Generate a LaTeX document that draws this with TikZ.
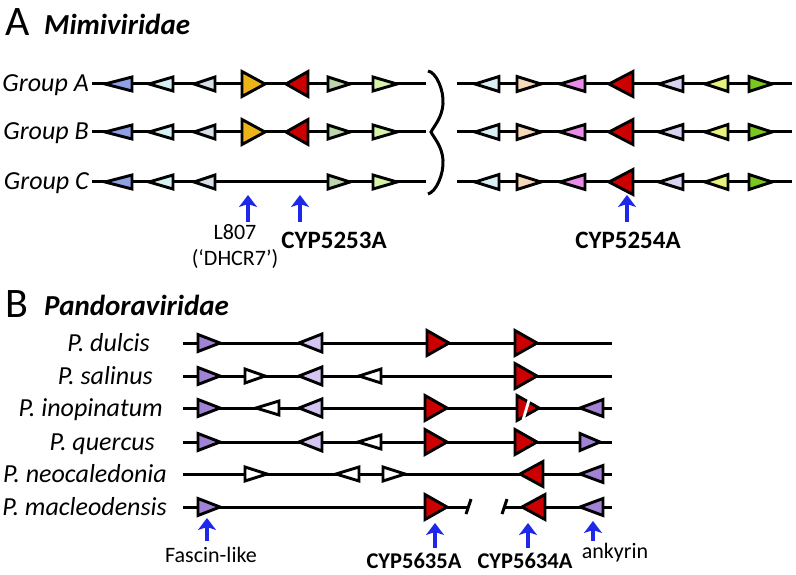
\documentclass[tikz,border=0pt]{standalone}
\usepackage{fontspec}
\setmainfont{Carlito}
\usetikzlibrary{arrows.meta}
\definecolor{gblue}{RGB}{143,160,228}
\definecolor{gcyan}{RGB}{214,240,246}
\definecolor{ggrey}{RGB}{214,222,232}
\definecolor{gyellow}{RGB}{236,180,24}
\definecolor{gred}{RGB}{204,0,0}
\definecolor{gsage}{RGB}{186,214,170}
\definecolor{glime}{RGB}{214,244,168}
\definecolor{gpeach}{RGB}{246,216,186}
\definecolor{gpink}{RGB}{232,140,232}
\definecolor{glilac}{RGB}{216,210,242}
\definecolor{gchart}{RGB}{232,242,122}
\definecolor{ggreen}{RGB}{122,200,30}
\definecolor{gpurple}{RGB}{162,130,212}
\definecolor{gmauve}{RGB}{212,196,242}
\definecolor{hitblue}{RGB}{30,40,232}
\tikzset{
  chrom/.style={line width=3pt},
  gene/.style={draw,line width=2.9pt,line join=miter},
  hit/.style={draw=hitblue,line width=3.8pt,-{Stealth[length=12pt,width=18pt,inset=3pt]}},
  rowlab/.style={anchor=base east,inner sep=0pt,font=\fontsize{26}{30}\selectfont\itshape},
  genelab/.style={anchor=base,inner sep=0pt,align=center,font=\fontsize{22}{26}\selectfont},
  cyplab/.style={anchor=base,inner sep=0pt,font=\fontsize{25}{28}\selectfont\bfseries},
  panel/.style={anchor=base west,inner sep=0pt,font=\fontsize{42}{44}\selectfont},
  family/.style={anchor=base west,inner sep=0pt,font=\fontsize{29}{32}\selectfont\bfseries\itshape},
}
% base x, tip x, row y, half height, fill
\newcommand{\gene}[5]{\filldraw[gene,fill=#5] (#1,#3-#4)--(#1,#3+#4)--(#2,#3)--cycle;}
\begin{document}
\begin{tikzpicture}[x=1pt,y=-1pt]
\useasboundingbox (0,0) rectangle (796,575);
% A Mimiviridae
\node[panel] (pA) at (5,36) {A};
\node[family] (fA) at (44,35) {Mimiviridae};
\foreach \n/\t/\y in {ga/A/84,gb/B/132,gc/C/182}{
  \node[rowlab] (\n) at (89,\y+8) {Group \t};
  \draw[chrom] (92,\y) -- (426,\y) (457,\y) -- (792,\y);
  \foreach \b/\e/\h/\c in {132/105/7/gblue,173/149/7/gcyan,215/194/7/ggrey,
      328/350/7/gsage,373/397/7/glime,
      499/475/7.5/gcyan,517/541/7.5/gpeach,585/560/7.5/gpink,633/609/12.5/gred,
      683/659/7.5/glilac,728/705/7.5/gchart,749/772/7.5/ggreen}
    {\gene{\b}{\e}{\y}{\h}{\c}}
}
\foreach \y in {84,132}{\gene{242}{265}{\y}{12.5}{gyellow}\gene{308}{286}{\y}{12.5}{gred}}
\draw[line width=3pt] (428,71) .. controls (436,72) and (444,90) .. (443,104)
  .. controls (442,118) and (434,126) .. (431,132)
  .. controls (434,138) and (442,146) .. (443,160)
  .. controls (444,174) and (436,192) .. (428,194);
\foreach \n/\x in {dh/248,c53/300,c54/627}{
  \coordinate (\n-t) at (\x,222); \coordinate (\n-h) at (\x,195);
  \draw[hit] (\n-t) -- (\n-h);}
\node[genelab,anchor=north] (dh) at (235,224) {L807\\(‘DHCR7’)};
\node[cyplab] (c53) at (334,248) {CYP5253A};
\node[cyplab] (c54) at (628,248) {CYP5254A};
% B Pandoraviridae
\node[panel] (pB) at (5,317) {B};
\node[family] (fB) at (44,315) {Pandoraviridae};
\foreach \n/\t/\x/\y in {pd/dulcis/150/343,ps/salinus/153/376,pi/inopinatum/163/408,
    pq/quercus/155/442,pn/neocaledonia/167/474,pm/macleodensis/167/507}
  \node[rowlab] (\n) at (\x,\y+8) {P. \t};
\foreach \y in {343,376,408,442,474} \draw[chrom] (183,\y) -- (612,\y);
\draw[chrom] (183,507) -- (469,507) (505,507) -- (612,507);
\draw[chrom] (466,514) -- (471,499) (502,514) -- (507,499);
\foreach \b/\e/\y/\h/\c in {
    198/220/343/8.5/gpurple,322/299/343/9/gmauve,427/449/343/12.5/gred,515/537/343/12.5/gred,
    198/220/376/8.5/gpurple,245/265/376/7/white,322/299/376/9/gmauve,381/359/376/7/white,515/537/376/12.5/gred,
    198/220/408/8.5/gpurple,279/256/408/7/white,322/299/408/9/gmauve,425/447/408/12.5/gred,517/539/408/12.5/gred,603/580/408/8.5/gpurple,
    198/220/442/8.5/gpurple,322/299/442/9/gmauve,381/358/442/7/white,425/447/442/12.5/gred,515/537/442/12.5/gred,580/600/442/8.5/gpurple,
    245/267/474/7/white,359/336/474/7/white,383/405/474/7/white,543/520/474/12.5/gred,603/580/474/8.5/gpurple,
    198/220/507/8.5/gpurple,425/447/507/12.5/gred,545/522/507/12.5/gred,603/580/507/8.5/gpurple}
  \gene{\b}{\e}{\y}{\h}{\c};
\draw[white,line width=2.8pt] (523,420) -- (530,397);
\foreach \n/\x/\a/\b in {fl/207/541/518,c35/435/548/523,c34/528/548/523,ank/593/541/521}{
  \coordinate (\n-t) at (\x,\a); \coordinate (\n-h) at (\x,\b);
  \draw[hit] (\n-t) -- (\n-h);}
\node[genelab] (fl) at (211,562) {Fascin-like};
\node[cyplab,font=\fontsize{22.5}{26}\selectfont\bfseries] (c35) at (414,568) {CYP5635A};
\node[cyplab,font=\fontsize{22.5}{26}\selectfont\bfseries] (c34) at (525,568) {CYP5634A};
\node[genelab] (ank) at (615,558) {ankyrin};
\end{tikzpicture}
\end{document}
